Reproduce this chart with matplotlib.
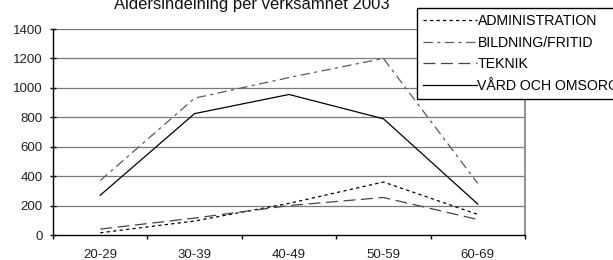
import matplotlib
matplotlib.use("Agg")
import matplotlib.pyplot as plt
import numpy as np

plt.rcParams["font.family"] = ["Liberation Sans", "DejaVu Sans"]

age_groups = ["20-29", "30-39", "40-49", "50-59", "60-69"]
administration = [15, 95, 215, 360, 140]
bildning = [370, 930, 1070, 1200, 350]
teknik = [40, 115, 200, 255, 105]
vard = [270, 825, 955, 790, 210]
y_ticks = [0, 200, 400, 600, 800, 1000, 1200, 1400]

W, H = 613, 260
fig = plt.figure(figsize=(W / 100, H / 100), dpi=100)
ax = fig.add_axes([53 / W, 25 / H, 472 / W, 206 / H])

x = np.arange(len(age_groups))
ax.plot(x, administration, color="black", lw=0.9, ls=(0, (2.6, 2.6)),
        label="ADMINISTRATION")
ax.plot(x, bildning, color="#5a5a5a", lw=0.9, ls=(0, (7.5, 3.5, 2.5, 3.5)),
        label="BILDNING/FRITID")
ax.plot(x, teknik, color="#444444", lw=0.9, ls=(0, (9.5, 4.5)),
        label="TEKNIK")
ax.plot(x, vard, color="black", lw=0.9, ls="-", label="VÅRD OCH OMSORG")

ax.set_xlim(-0.5, len(age_groups) - 0.5)
ax.set_ylim(0, 1400)
ax.set_yticks(y_ticks)
ax.set_xticks(x)
ax.set_xticklabels(age_groups)
ax.set_xticks(np.arange(-0.5, len(age_groups)), minor=True)
ax.tick_params(axis="x", which="major", length=0, pad=10, labelsize=9.5,
               labelcolor="#222222")
ax.tick_params(axis="x", which="minor", length=3, direction="out", width=1)
ax.tick_params(axis="y", length=5, direction="inout", width=1,
               labelsize=9.5, pad=5, labelcolor="#222222")

for v in y_ticks[1:]:
    ax.axhline(v, color="#7a7a7a", lw=0.9, zorder=0)

ax.spines["top"].set_visible(False)
ax.spines["right"].set_color("#888888")
ax.spines["right"].set_linewidth(1.3)
ax.spines["left"].set_linewidth(1.0)
ax.spines["bottom"].set_linewidth(1.0)

# title is partly cut at the top edge, as in the original
fig.text(252 / W, 1 - 9 / H, "Åldersindelning per verksamhet 2003",
         ha="center", va="baseline", fontsize=12, color="#111111")

leg = fig.legend(loc="upper left", bbox_to_anchor=(417 / W, 1 - 8 / H),
                 fontsize=10.2, frameon=True, fancybox=False,
                 edgecolor="black", framealpha=1,
                 handlelength=3.8, handletextpad=0.05, labelspacing=0.54,
                 borderpad=0.42, borderaxespad=0)
leg.get_frame().set_linewidth(1.0)

fig.savefig("out.png", dpi=100)
